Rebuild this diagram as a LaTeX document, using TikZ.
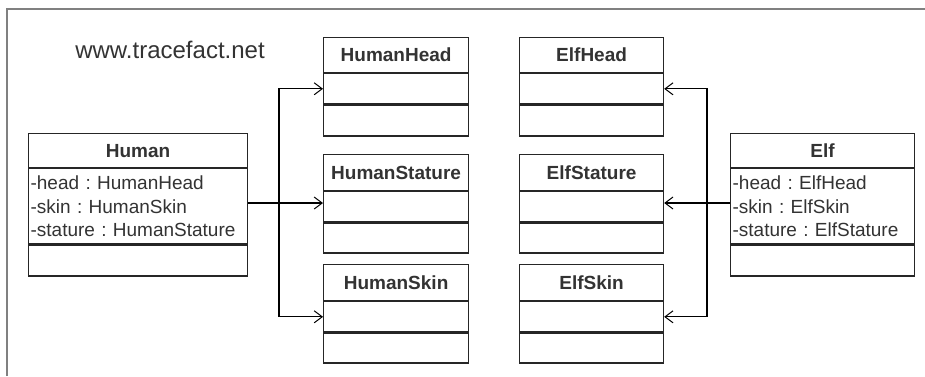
\documentclass[tikz,border=0pt]{standalone}
\usepackage{fontspec}
\setmainfont{Liberation Sans}
\usetikzlibrary{arrows.meta}
\frenchspacing
\tikzset{
  x=1pt, y=-1pt,
  cls/.style={draw=black!85, line width=1.2pt, fill=white, inner sep=0pt, anchor=north, text=black!80},
  ttl/.style={cls, anchor=north west, font=\fontsize{19}{23}\selectfont\bfseries},
  attrs/.style={cls, font=\fontsize{19}{23.5}\selectfont\frenchspacing, align=left, inner xsep=2pt},
  conn/.style={draw=black, line width=1.1pt},
  arr/.style={conn, -{Straight Barb[length=8pt,width=12pt,line width=1pt]}},
  frame/.style={draw=black!50, line width=1.6pt}
}
\begin{document}
\begin{tikzpicture}
\useasboundingbox (0,0) rectangle (925,376);
\draw[frame] (7,376) -- (7,9) -- (925,9);
\node[anchor=base, font=\fontsize{24}{28}\selectfont, text=black!80] (site) at (170,58) {www.tracefact.net};

% Human
\node[ttl, minimum width=219pt, minimum height=34pt] (human) at (28,133) {Human};
\node[attrs, minimum width=219pt, minimum height=75pt, text width=215pt] (human-attr) at (human.south) {-head : HumanHead\\-skin : HumanSkin\\-stature : HumanStature};
\node[cls, minimum width=219pt, minimum height=31pt] (human-ops) at (human-attr.south) {};

% Human parts
\node[ttl, minimum width=145pt, minimum height=35pt] (hhead) at (323,37) {HumanHead};
\node[cls, minimum width=145pt, minimum height=30pt] (hhead-attr) at (hhead.south) {};
\node[cls, minimum width=145pt, minimum height=31pt] (hhead-ops) at (hhead-attr.south) {};

\node[ttl, minimum width=145pt, minimum height=36pt] (hstat) at (323,154) {HumanStature};
\node[cls, minimum width=145pt, minimum height=30pt] (hstat-attr) at (hstat.south) {};
\node[cls, minimum width=145pt, minimum height=30pt] (hstat-ops) at (hstat-attr.south) {};

\node[ttl, minimum width=145pt, minimum height=36pt] (hskin) at (323,264) {HumanSkin};
\node[cls, minimum width=145pt, minimum height=30pt] (hskin-attr) at (hskin.south) {};
\node[cls, minimum width=145pt, minimum height=30pt] (hskin-ops) at (hskin-attr.south) {};

% Elf parts
\node[ttl, minimum width=144pt, minimum height=35pt] (ehead) at (519,37) {ElfHead};
\node[cls, minimum width=144pt, minimum height=30pt] (ehead-attr) at (ehead.south) {};
\node[cls, minimum width=144pt, minimum height=31pt] (ehead-ops) at (ehead-attr.south) {};

\node[ttl, minimum width=144pt, minimum height=36pt] (estat) at (519,154) {ElfStature};
\node[cls, minimum width=144pt, minimum height=30pt] (estat-attr) at (estat.south) {};
\node[cls, minimum width=144pt, minimum height=30pt] (estat-ops) at (estat-attr.south) {};

\node[ttl, minimum width=144pt, minimum height=36pt] (eskin) at (519,264) {ElfSkin};
\node[cls, minimum width=144pt, minimum height=30pt] (eskin-attr) at (eskin.south) {};
\node[cls, minimum width=144pt, minimum height=30pt] (eskin-ops) at (eskin-attr.south) {};

% Elf
\node[ttl, minimum width=184pt, minimum height=34pt] (elf) at (730,133) {Elf};
\node[attrs, minimum width=184pt, minimum height=75pt, text width=180pt] (elf-attr) at (elf.south) {-head : ElfHead\\-skin : ElfSkin\\-stature : ElfStature};
\node[cls, minimum width=184pt, minimum height=31pt] (elf-ops) at (elf-attr.south) {};

% connectors
\coordinate (hj) at (279,203);
\coordinate (ej) at (707,203);
\draw[arr] (human-attr.east |- hj) -- (hstat-attr.west |- hj);
\draw[arr] (hj) |- (hhead-attr.west);
\draw[arr] (hj) |- (hskin-attr.west);
\draw[arr] (elf-attr.west |- ej) -- (estat-attr.east |- ej);
\draw[arr] (ej) |- (ehead-attr.east);
\draw[arr] (ej) |- (eskin-attr.east);
\end{tikzpicture}
\end{document}
